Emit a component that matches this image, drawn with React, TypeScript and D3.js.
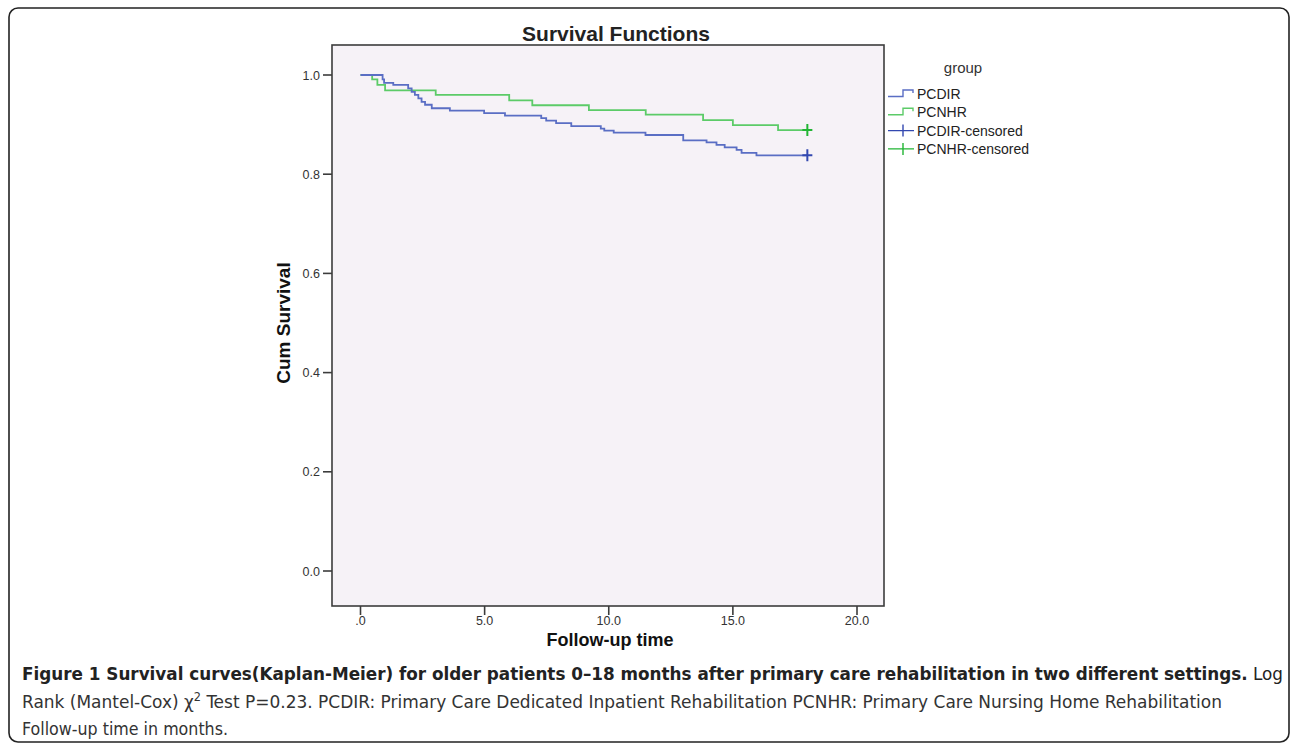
import React, { useEffect, useRef } from "react";
import * as d3 from "d3";

// PCDIR step times (months) and survival after each step
const pcdirTimes = [0, 0.89, 0.95, 1.32, 1.92, 2.06, 2.19, 2.33, 2.46, 2.6, 2.87, 3.6, 4.98, 5.82, 7.28, 7.48, 7.88, 8.49, 9.68, 9.82, 10.2, 11.48, 13.0, 13.94, 14.34, 14.67, 15.15, 15.35, 15.95];
const pcdirSurv = [1.0, 0.991, 0.984, 0.98, 0.973, 0.966, 0.96, 0.953, 0.946, 0.94, 0.933, 0.928, 0.923, 0.918, 0.913, 0.908, 0.903, 0.897, 0.892, 0.888, 0.884, 0.879, 0.868, 0.864, 0.859, 0.854, 0.849, 0.843, 0.838];

// PCNHR
const pcnhrTimes = [0, 0.47, 0.68, 0.99, 3.03, 5.99, 6.92, 9.2, 11.49, 13.8, 15.0, 16.82];
const pcnhrSurv = [1.0, 0.991, 0.98, 0.969, 0.96, 0.949, 0.939, 0.929, 0.92, 0.909, 0.899, 0.889];

const endTime = 18; // censored at end of follow-up
const xTicks = [0, 5, 10, 15, 20];
const yTicks = [0, 0.2, 0.4, 0.6, 0.8, 1.0];
const legendLabels = ["PCDIR", "PCNHR", "PCDIR-censored", "PCNHR-censored"];

const BLUE = "#5a6ec4";
const GREEN = "#5ccb68";
const BLUE_DARK = "#3348b0";
const GREEN_DARK = "#22b534";

const App = () => {
  const svgRef = useRef<SVGSVGElement>(null);

  useEffect(() => {
    const svg = d3.select(svgRef.current);
    svg.selectAll("*").remove();

    const frame = { x: 332, y: 45, w: 552, h: 561 };
    const x = d3.scaleLinear().domain([0, 20]).range([360.5, 857]);
    const y = d3.scaleLinear().domain([0, 1]).range([571, 75]);
    const font = "Liberation Sans, Arial, sans-serif";

    // outer figure border
    svg
      .append("rect")
      .attr("x", 9)
      .attr("y", 8)
      .attr("width", 1280)
      .attr("height", 734)
      .attr("rx", 9)
      .attr("fill", "white")
      .attr("stroke", "#222")
      .attr("stroke-width", 1.6);

    // plot area
    svg
      .append("rect")
      .attr("x", frame.x)
      .attr("y", frame.y)
      .attr("width", frame.w)
      .attr("height", frame.h)
      .attr("fill", "#f6f2f7")
      .attr("stroke", "#3c3c3c")
      .attr("stroke-width", 1.6);

    svg
      .append("text")
      .attr("x", 616)
      .attr("y", 41)
      .attr("text-anchor", "middle")
      .style("font-family", font)
      .style("font-size", "21px")
      .style("font-weight", "bold")
      .attr("fill", "#222")
      .text("Survival Functions");

    // y axis
    const yAxis = svg.append("g");
    yTicks.forEach((t) => {
      yAxis
        .append("line")
        .attr("x1", frame.x - 9)
        .attr("x2", frame.x)
        .attr("y1", y(t))
        .attr("y2", y(t))
        .attr("stroke", "#3c3c3c")
        .attr("stroke-width", 1.6);
      yAxis
        .append("text")
        .attr("x", frame.x - 12)
        .attr("y", y(t) + 4.5)
        .attr("text-anchor", "end")
        .style("font-family", font)
        .style("font-size", "12.5px")
        .attr("fill", "#333")
        .text(t.toFixed(1));
    });

    // x axis
    const xAxis = svg.append("g");
    xTicks.forEach((t) => {
      xAxis
        .append("line")
        .attr("x1", x(t))
        .attr("x2", x(t))
        .attr("y1", frame.y + frame.h)
        .attr("y2", frame.y + frame.h + 9)
        .attr("stroke", "#3c3c3c")
        .attr("stroke-width", 1.6);
      xAxis
        .append("text")
        .attr("x", x(t))
        .attr("y", frame.y + frame.h + 19)
        .attr("text-anchor", "middle")
        .style("font-family", font)
        .style("font-size", "12.5px")
        .attr("fill", "#333")
        .text(t === 0 ? ".0" : t.toFixed(1));
    });

    svg
      .append("text")
      .attr("x", 610)
      .attr("y", 646)
      .attr("text-anchor", "middle")
      .style("font-family", font)
      .style("font-size", "18px")
      .style("font-weight", "bold")
      .attr("fill", "#111")
      .text("Follow-up time");

    svg
      .append("text")
      .attr("transform", "translate(290,323) rotate(-90)")
      .attr("text-anchor", "middle")
      .style("font-family", font)
      .style("font-size", "19px")
      .style("font-weight", "bold")
      .attr("fill", "#111")
      .text("Cum Survival");

    // survival step curves
    const curve = (times: number[], surv: number[]) => {
      const pts: [number, number][] = times.map((t, i) => [t, surv[i]]);
      pts.push([endTime, surv[surv.length - 1]]);
      return d3
        .line<[number, number]>()
        .x((d) => x(d[0]))
        .y((d) => y(d[1]))
        .curve(d3.curveStepAfter)(pts);
    };

    const groups = [
      { times: pcnhrTimes, surv: pcnhrSurv, color: GREEN, dark: GREEN_DARK },
      { times: pcdirTimes, surv: pcdirSurv, color: BLUE, dark: BLUE_DARK },
    ];

    groups.forEach((g) => {
      svg
        .append("path")
        .attr("d", curve(g.times, g.surv))
        .attr("fill", "none")
        .attr("stroke", g.color)
        .attr("stroke-width", 1.8);
      const cx = x(endTime);
      const cy = y(g.surv[g.surv.length - 1]);
      svg
        .append("path")
        .attr("d", `M${cx - 5},${cy}H${cx + 5}M${cx},${cy - 6}V${cy + 6}`)
        .attr("stroke", g.dark)
        .attr("stroke-width", 2);
    });

    // legend
    const legend = svg.append("g");
    legend
      .append("text")
      .attr("x", 963)
      .attr("y", 73)
      .attr("text-anchor", "middle")
      .style("font-family", font)
      .style("font-size", "15px")
      .attr("fill", "#333")
      .text("group");

    const legendColors = [BLUE, GREEN, BLUE_DARK, GREEN_DARK];
    legendLabels.forEach((label, i) => {
      const ry = 94 + i * 18.3;
      const c = legendColors[i];
      if (i < 2) {
        legend
          .append("path")
          .attr("d", `M888,${ry + 2.5}H903V${ry - 4}H913V${ry - 1}`)
          .attr("fill", "none")
          .attr("stroke", c)
          .attr("stroke-width", 1.4);
      } else {
        legend
          .append("path")
          .attr("d", `M888,${ry}H914M903,${ry - 6}V${ry + 6}`)
          .attr("fill", "none")
          .attr("stroke", c)
          .attr("stroke-width", 1.4);
      }
      legend
        .append("text")
        .attr("x", 917)
        .attr("y", ry + 5)
        .style("font-family", font)
        .style("font-size", "14px")
        .attr("fill", "#222")
        .text(label);
    });

    // caption
    const capFont = "'Liberation Sans Narrow', 'DejaVu Sans Condensed', 'Open Sans', sans-serif";
    const line1 = svg
      .append("text")
      .attr("x", 22)
      .attr("y", 680)
      .attr("textLength", 1261)
      .attr("lengthAdjust", "spacingAndGlyphs")
      .style("font-family", capFont)
      .style("font-size", "18px")
      .attr("fill", "#222");
    line1
      .append("tspan")
      .style("font-weight", "bold")
      .text(
        "Figure 1 Survival curves(Kaplan-Meier) for older patients 0\u201318 months after primary care rehabilitation in two different settings."
      );
    line1.append("tspan").text(" Log");

    const line2 = svg
      .append("text")
      .attr("x", 22)
      .attr("y", 708)
      .attr("textLength", 1200)
      .attr("lengthAdjust", "spacingAndGlyphs")
      .style("font-family", capFont)
      .style("font-size", "18px")
      .attr("fill", "#333");
    line2.append("tspan").text("Rank (Mantel-Cox) \u03c7");
    line2.append("tspan").attr("dy", -7).style("font-size", "12px").text("2");
    line2
      .append("tspan")
      .attr("dy", 7)
      .text(
        " Test P=0.23. PCDIR: Primary Care Dedicated Inpatient Rehabilitation PCNHR: Primary Care Nursing Home Rehabilitation"
      );

    svg
      .append("text")
      .attr("x", 22)
      .attr("y", 735)
      .attr("textLength", 206)
      .attr("lengthAdjust", "spacingAndGlyphs")
      .style("font-family", capFont)
      .style("font-size", "18px")
      .attr("fill", "#333")
      .text("Follow-up time in months.");
  }, []);

  return (
    <svg
      ref={svgRef}
      width={1290}
      height={746}
      style={{ position: "absolute", left: 0, top: 0, background: "white" }}
    ></svg>
  );
};

export default App;
